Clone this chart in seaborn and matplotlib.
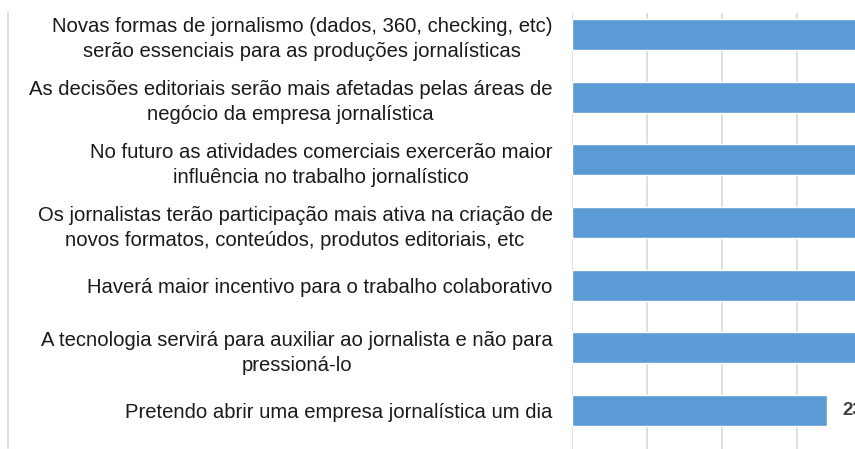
import matplotlib
matplotlib.use("Agg")
import matplotlib.pyplot as plt
from matplotlib.lines import Line2D
from matplotlib.ticker import MultipleLocator
import seaborn as sns
import pandas as pd

afirmacoes = [
    "Novas formas de jornalismo (dados, 360, checking, etc)\nserão essenciais para as produções jornalísticas",
    "As decisões editoriais serão mais afetadas pelas áreas de\nnegócio da empresa jornalística",
    "No futuro as atividades comerciais exercerão maior\ninfluência no trabalho jornalístico",
    "Os jornalistas terão participação mais ativa na criação de\nnovos formatos, conteúdos, produtos editoriais, etc",
    "Haverá maior incentivo para o trabalho colaborativo",
    "A tecnologia servirá para auxiliar ao jornalista e não para\npressioná-lo",
    "Pretendo abrir uma empresa jornalística um dia",
]
percentuais = [63.5, 55.2, 52.1, 48.7, 45.3, 41.0, 23.8]

df = pd.DataFrame({"afirmacao": afirmacoes, "pct": percentuais})

sns.set_theme(style="white")
plt.rcParams["font.family"] = ["Liberation Sans", "DejaVu Sans"]

fig = plt.figure(figsize=(8.55, 4.49), dpi=100)
# plot area starts at x=572px, top at y=13px, runs past the right/bottom edges
ax = fig.add_axes([572 / 855, 0.0, 1 - 572 / 855, (449 - 13) / 449])

sns.barplot(data=df, x="pct", y="afirmacao", color="#5b9bd5",
            width=0.49, saturation=1, ax=ax)

ax.set_xlim(0, (855 - 572) / 75 * 7)
ax.set_ylim(6 + (449 - 410.5) / 62.7, -(34.5 - 13) / 62.7)
ax.xaxis.set_major_locator(MultipleLocator(7))
ax.grid(axis="x", color="#d9d9d9", linewidth=1.2)
ax.set_axisbelow(True)
for s in ax.spines.values():
    s.set_visible(False)
ax.set_xlabel("")
ax.set_ylabel("")
ax.set_xticklabels([])
ax.tick_params(axis="x", length=0)
ax.tick_params(axis="y", length=0, pad=14, labelsize=14.6, labelcolor="#1a1a1a")
for t in ax.get_yticklabels():
    t.set_multialignment("center")
    t.set_linespacing(1.4)

for i, v in enumerate(percentuais):
    ax.text(v + 1.4, i, f"{v:.1f}%".replace(".", ","), va="center", ha="left",
            fontsize=13.5, fontweight="bold", color="#404040", clip_on=False)

# chart border on the left
fig.add_artist(Line2D([8 / 855, 8 / 855], [1 - 13 / 449, 1 - 448 / 449],
                      color="#d9d9d9", linewidth=1.2))

fig.savefig("out.png", dpi=100)
